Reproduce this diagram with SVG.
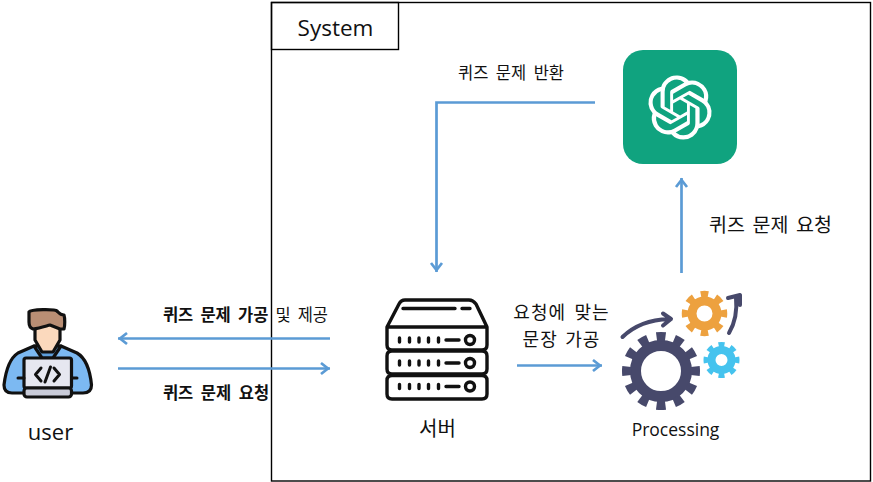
<svg xmlns="http://www.w3.org/2000/svg" width="873" height="482" viewBox="0 0 873 482">
<style>
text{font-family:"Noto Sans CJK KR","Noto Sans",sans-serif;fill:#111;text-anchor:middle}
.lat{font-family:"Open Sans","Noto Sans",sans-serif}
.b{font-weight:700}
.conn{fill:none;stroke:#5b9bd5;stroke-width:2.700;marker-end:url(#arr)}
.box{fill:none;stroke:#000;stroke-width:1.400}
.ic{fill:none;stroke:#111;stroke-width:3;stroke-linecap:round;stroke-linejoin:round}
.ol{stroke:#111;stroke-width:3.200;stroke-linejoin:round;stroke-linecap:round}
.sv{fill:none;stroke:#111;stroke-width:3.400;stroke-linecap:round;stroke-linejoin:round}
.ga{fill:none;stroke:#47496b;stroke-width:4;stroke-linecap:round;stroke-linejoin:round}
</style>
<defs>
<marker id="arr" markerUnits="userSpaceOnUse" markerWidth="18" markerHeight="16" refX="15" refY="8" orient="auto">
<path d="M6 2.500L13 8L6 13.500" fill="none" stroke="#5b9bd5" stroke-width="2.700"/>
</marker>
</defs>
<rect width="873" height="482" fill="#fff"/>
<g id="system">
<rect class="box" x="271.500" y="2.500" width="599" height="478.500"/>
<rect class="box" x="271.500" y="2.500" width="127" height="47"/>
<text class="lat" x="335.500" y="35.500" font-size="22.500">System</text>
</g>
<g id="connectors">
<path class="conn" d="M595 102.500H436.500V272"/>
<path class="conn" d="M681.500 273V178"/>
<path class="conn" d="M517 365.500H602"/>
<path class="conn" d="M330 338.500H118"/>
<path class="conn" d="M118 368.500H330"/>
</g>
<g id="labels">
<text x="511" y="79" font-size="16.500" word-spacing="3.800">퀴즈 문제 반환</text>
<text x="770.500" y="231.500" font-size="19.500" word-spacing="3.300">퀴즈 문제 요청</text>
<text x="561.500" y="319" font-size="18" letter-spacing="1" word-spacing="3.500">요청에 맞는</text>
<text x="561.500" y="345.500" font-size="18" letter-spacing="1" word-spacing="2.500">문장 가공</text>
<text x="245.500" y="321" font-size="16.500" word-spacing="3.400"><tspan class="b">퀴즈 문제 가공</tspan> 및 제공</text>
<text x="216" y="398.500" font-size="16.500" word-spacing="3.800" class="b">퀴즈 문제 요청</text>
</g>
<g id="user">
<path d="M34 346L18 353Q7 360 4 385Q4 393 12 393H83Q91.500 393 91.500 385Q89 360 77 353L61 346Z" fill="#7cb9f2" class="ol"/>
<path d="M34 346L42 358H53L61 346Z" fill="#5e9fdc" class="ol"/>
<path d="M35 326V340L42 352H53L60 340V326C60 324 58 321 47 320C37 321 35 324 35 326Z" fill="#fbd9bd" class="ol"/>
<path d="M29 312C31 309 55 309 57 311C59 313 60 315 64 315C65 318 65 326 64 329H60L50 325C46 326 40 328 33 329C30 328 29 326 29 322Z" fill="#b98e74" class="ol"/>
<rect x="24" y="358" width="47.500" height="30" rx="2" fill="#e6e7f0" class="ol"/>
<rect x="24" y="388" width="47.500" height="9" rx="3" fill="#c9cbd8" class="ol"/>
<path class="ic" d="M41 368L35.500 374.500L41 381M54 368L59.500 374.500L54 381M50.500 367L45 382"/>
<path class="ic" d="M18 378H24M72 378H77"/>
<text class="lat" x="50.500" y="439.500" font-size="22">user</text>
</g>
<g id="server">
<path class="sv" d="M387 327L399 304Q401 300 405 300H469Q473 300 476 304L487 327ZM387 327V345Q387 350 392 350H482Q487 350 487 345V327M392 351H482Q487 351 487 356V369Q487 374 482 374H392Q387 374 387 369V356Q387 351 392 351ZM392 375.500H482Q487 375.500 487 380.500V394Q487 399 482 399H392Q387 399 387 394V380.500Q387 375.500 392 375.500Z"/>
<path class="sv" d="M403 308.500H455M462 308.500H470M446 340H459M446 363H459M446 386.500H459"/>
<path class="sv" d="M399.500 338V342M409.500 338V342M419 338V342M428.500 338V342M438.500 338V342M399.500 361V365M409.500 361V365M419 361V365M428.500 361V365M438.500 361V365M399.500 384.500V388.500M409.500 384.500V388.500M419 384.500V388.500M428.500 384.500V388.500M438.500 384.500V388.500"/>
<circle class="sv" cx="470" cy="340" r="4.500"/><circle class="sv" cx="470" cy="363" r="4.500"/><circle class="sv" cx="470" cy="386.500" r="4.500"/>
<text x="437.500" y="435.500" font-size="20">서버</text>
</g>
<g id="processing">
<circle cx="661" cy="371" r="25.500" fill="none" stroke="#47496b" stroke-width="11"/>
<circle cx="661" cy="371" r="34.500" fill="none" stroke="#47496b" stroke-width="9" pathLength="120" stroke-dasharray="5 5" stroke-dashoffset="2.500"/>
<circle cx="704.500" cy="313.500" r="12.500" fill="none" stroke="#eda13f" stroke-width="9"/>
<circle cx="704.500" cy="313.500" r="19.500" fill="none" stroke="#eda13f" stroke-width="6.500" pathLength="80" stroke-dasharray="5 5" stroke-dashoffset="2.500"/>
<circle cx="721.500" cy="360" r="10" fill="none" stroke="#45c3ee" stroke-width="8"/>
<circle cx="721.500" cy="360" r="15.500" fill="none" stroke="#45c3ee" stroke-width="5" pathLength="80" stroke-dasharray="5 5" stroke-dashoffset="2.500"/>
<path class="ga" d="M622.500 337Q640 320 669 319M663 313.500L671 319L663 325.500"/>
<path class="ga" d="M729 333Q738 318 736 297M728 298L740 295L740 305"/>
<text class="lat" x="675.500" y="436" font-size="17.500">Processing</text>
</g>
<g id="openai">
<rect x="623" y="50" width="114" height="114" rx="20" fill="#10a37f"/>
<path transform="translate(648 75.500) scale(2.667)" fill="#fff" d="M22.2819 9.8211a5.9847 5.9847 0 0 0-.5157-4.9108 6.0462 6.0462 0 0 0-6.5098-2.9A6.0651 6.0651 0 0 0 4.9807 4.1818a5.9847 5.9847 0 0 0-3.9977 2.9 6.0462 6.0462 0 0 0 .7427 7.0966 5.98 5.98 0 0 0 .511 4.9107 6.051 6.051 0 0 0 6.5146 2.9001A5.9847 5.9847 0 0 0 13.2599 24a6.0557 6.0557 0 0 0 5.7718-4.2058 5.9894 5.9894 0 0 0 3.9977-2.9001 6.0557 6.0557 0 0 0-.7475-7.0729zm-9.022 12.6081a4.4755 4.4755 0 0 1-2.8764-1.0408l.1419-.0804 4.7783-2.7582a.7948.7948 0 0 0 .3927-.6813v-6.7369l2.02 1.1686a.071.071 0 0 1 .038.052v5.5826a4.504 4.504 0 0 1-4.4945 4.4944zm-9.6607-4.1254a4.4708 4.4708 0 0 1-.5346-3.0137l.142.0852 4.783 2.7582a.7712.7712 0 0 0 .7806 0l5.8428-3.3685v2.3324a.0804.0804 0 0 1-.0332.0615L9.74 19.9502a4.4992 4.4992 0 0 1-6.1408-1.6464zM2.3408 7.8956a4.485 4.485 0 0 1 2.3655-1.9728V11.6a.7664.7664 0 0 0 .3879.6765l5.8144 3.3543-2.0201 1.1685a.0757.0757 0 0 1-.071 0l-4.8303-2.7865A4.504 4.504 0 0 1 2.3408 7.872zm16.5963 3.8558L13.1038 8.364 15.1192 7.2a.0757.0757 0 0 1 .071 0l4.8303 2.7913a4.4944 4.4944 0 0 1-.6765 8.1042v-5.6772a.79.79 0 0 0-.407-.667zm2.0107-3.0231l-.142-.0852-4.7735-2.7818a.7759.7759 0 0 0-.7854 0L9.409 9.2297V6.8974a.0662.0662 0 0 1 .0284-.0615l4.8303-2.7866a4.4992 4.4992 0 0 1 6.6802 4.66zM8.3065 12.863l-2.02-1.1638a.0804.0804 0 0 1-.038-.0567V6.0742a4.4992 4.4992 0 0 1 7.3757-3.4537l-.142.0805L8.704 5.459a.7948.7948 0 0 0-.3927.6813zm1.0976-2.3654l2.602-1.4998 2.6069 1.4998v2.9994l-2.5974 1.4997-2.6067-1.4997Z"/>
</g>
</svg>
